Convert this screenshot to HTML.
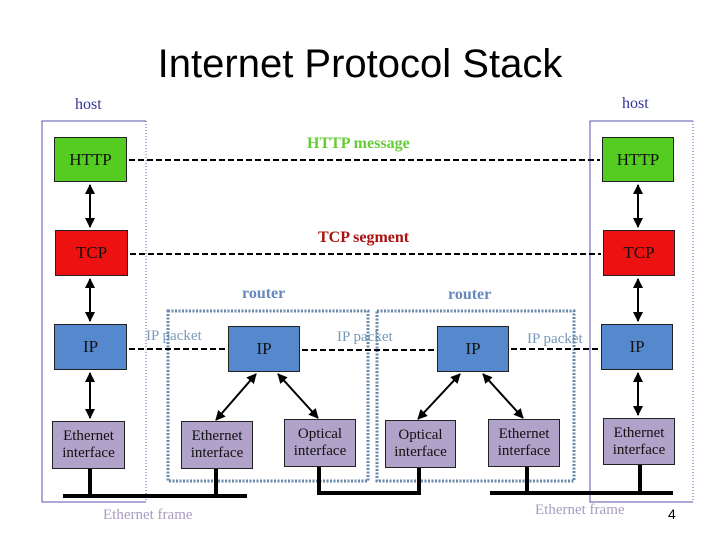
<!DOCTYPE html>
<html><head><meta charset="utf-8"><style>
body{margin:0;background:#fff;width:720px;height:540px;overflow:hidden;position:relative;font-family:"Liberation Serif",serif}
.t{position:absolute;white-space:nowrap}
.b{position:absolute;border:1px solid #222;box-sizing:border-box;display:flex;align-items:center;justify-content:center;text-align:center;font-size:17px;color:#111}
.e{background:#b0a2c8;font-size:15px;line-height:17px}
</style></head><body>
<div class="t" style="left:0;width:720px;text-align:center;top:42px;font-family:'Liberation Sans',sans-serif;font-size:40px;color:#000">Internet Protocol Stack</div>
<div class="t" style="left:75px;top:96px;font-size:16px;color:#333399">host</div>
<div class="t" style="left:622px;top:95px;font-size:16px;color:#333399">host</div>
<div class="t" style="left:307px;top:135px;font-size:16px;font-weight:bold;color:#66cc33">HTTP message</div>
<div class="t" style="left:318px;top:229px;font-size:16px;font-weight:bold;color:#aa1111">TCP segment</div>
<div class="t" style="left:242px;top:285px;font-size:16px;font-weight:bold;color:#6688bb">router</div>
<div class="t" style="left:448px;top:286px;font-size:16px;font-weight:bold;color:#6688bb">router</div>
<div class="t" style="left:146px;top:328px;font-size:15px;color:#7799bb">IP packet</div>
<div class="t" style="left:337px;top:329px;font-size:15px;color:#7799bb">IP packet</div>
<div class="t" style="left:527px;top:331px;font-size:15px;color:#7799bb">IP packet</div>
<div class="t" style="left:103px;top:507px;font-size:15px;color:#a89cc0">Ethernet frame</div>
<div class="t" style="left:535px;top:502px;font-size:15px;color:#a89cc0">Ethernet frame</div>
<div class="t" style="left:668px;top:506px;font-size:14px;font-family:'Liberation Sans',sans-serif">4</div>
<svg width="720" height="540" style="position:absolute;left:0;top:0">
<defs><marker id="a" viewBox="0 0 10 10" refX="9" refY="5" markerWidth="5" markerHeight="5" orient="auto-start-reverse"><path d="M0,0L10,5L0,10z" fill="#000"/></marker></defs>
<g fill="none">
<path d="M146,121H42V502H146" stroke="#5555aa" stroke-width="1"/>
<path d="M146,121V502" stroke="#5555aa" stroke-dasharray="1,2"/>
<path d="M693,121H590V502H693" stroke="#5555aa"/>
<path d="M693,121V502" stroke="#5555aa" stroke-dasharray="1,2"/>
<rect x="168" y="311" width="200" height="170" stroke="#6688aa" stroke-width="3" stroke-dasharray="2,1.5"/>
<rect x="377" y="311" width="197" height="170" stroke="#6688aa" stroke-width="3" stroke-dasharray="2,1.5"/>
<g stroke="#000" stroke-width="2" stroke-dasharray="6,3">
<path d="M129,160H600"/><path d="M130,254H601"/>
<path d="M129,349H226"/><path d="M302,350H435"/><path d="M511,349H599"/>
</g>
<g stroke="#000" stroke-width="2">
<path d="M90,185V227" marker-start="url(#a)" marker-end="url(#a)"/>
<path d="M90,279V321" marker-start="url(#a)" marker-end="url(#a)"/>
<path d="M90,373V418" marker-start="url(#a)" marker-end="url(#a)"/>
<path d="M638,185V227" marker-start="url(#a)" marker-end="url(#a)"/>
<path d="M638,279V321" marker-start="url(#a)" marker-end="url(#a)"/>
<path d="M638,373V415" marker-start="url(#a)" marker-end="url(#a)"/>
<path d="M256,374L216,420" marker-start="url(#a)" marker-end="url(#a)"/>
<path d="M278,374L318,418" marker-start="url(#a)" marker-end="url(#a)"/>
<path d="M460,374L418,419" marker-start="url(#a)" marker-end="url(#a)"/>
<path d="M483,374L523,418" marker-start="url(#a)" marker-end="url(#a)"/>
</g>
<g stroke="#000" stroke-width="4">
<path d="M63,496H247"/><path d="M90,469V496"/><path d="M216,469V496"/>
<path d="M319,467V493H419V468"/>
<path d="M490,493H673"/><path d="M527,467V493"/><path d="M640,465V493"/>
</g>
</g></svg>
<div class="b" style="left:54px;top:137px;width:73px;height:45px;background:#55cc22">HTTP</div>
<div class="b" style="left:55px;top:230px;width:73px;height:46px;background:#ee1111">TCP</div>
<div class="b" style="left:54px;top:324px;width:73px;height:46px;background:#5588cc">IP</div>
<div class="b e" style="left:52px;top:421px;width:73px;height:48px">Ethernet<br>interface</div>
<div class="b" style="left:228px;top:326px;width:72px;height:46px;background:#5588cc">IP</div>
<div class="b e" style="left:181px;top:421px;width:72px;height:48px">Ethernet<br>interface</div>
<div class="b e" style="left:284px;top:419px;width:72px;height:48px">Optical<br>interface</div>
<div class="b" style="left:437px;top:326px;width:72px;height:46px;background:#5588cc">IP</div>
<div class="b e" style="left:385px;top:420px;width:71px;height:48px">Optical<br>interface</div>
<div class="b e" style="left:488px;top:419px;width:72px;height:48px">Ethernet<br>interface</div>
<div class="b" style="left:602px;top:137px;width:72px;height:45px;background:#55cc22">HTTP</div>
<div class="b" style="left:603px;top:230px;width:72px;height:46px;background:#ee1111">TCP</div>
<div class="b" style="left:601px;top:324px;width:72px;height:46px;background:#5588cc">IP</div>
<div class="b e" style="left:603px;top:418px;width:72px;height:47px">Ethernet<br>interface</div>
</body></html>
